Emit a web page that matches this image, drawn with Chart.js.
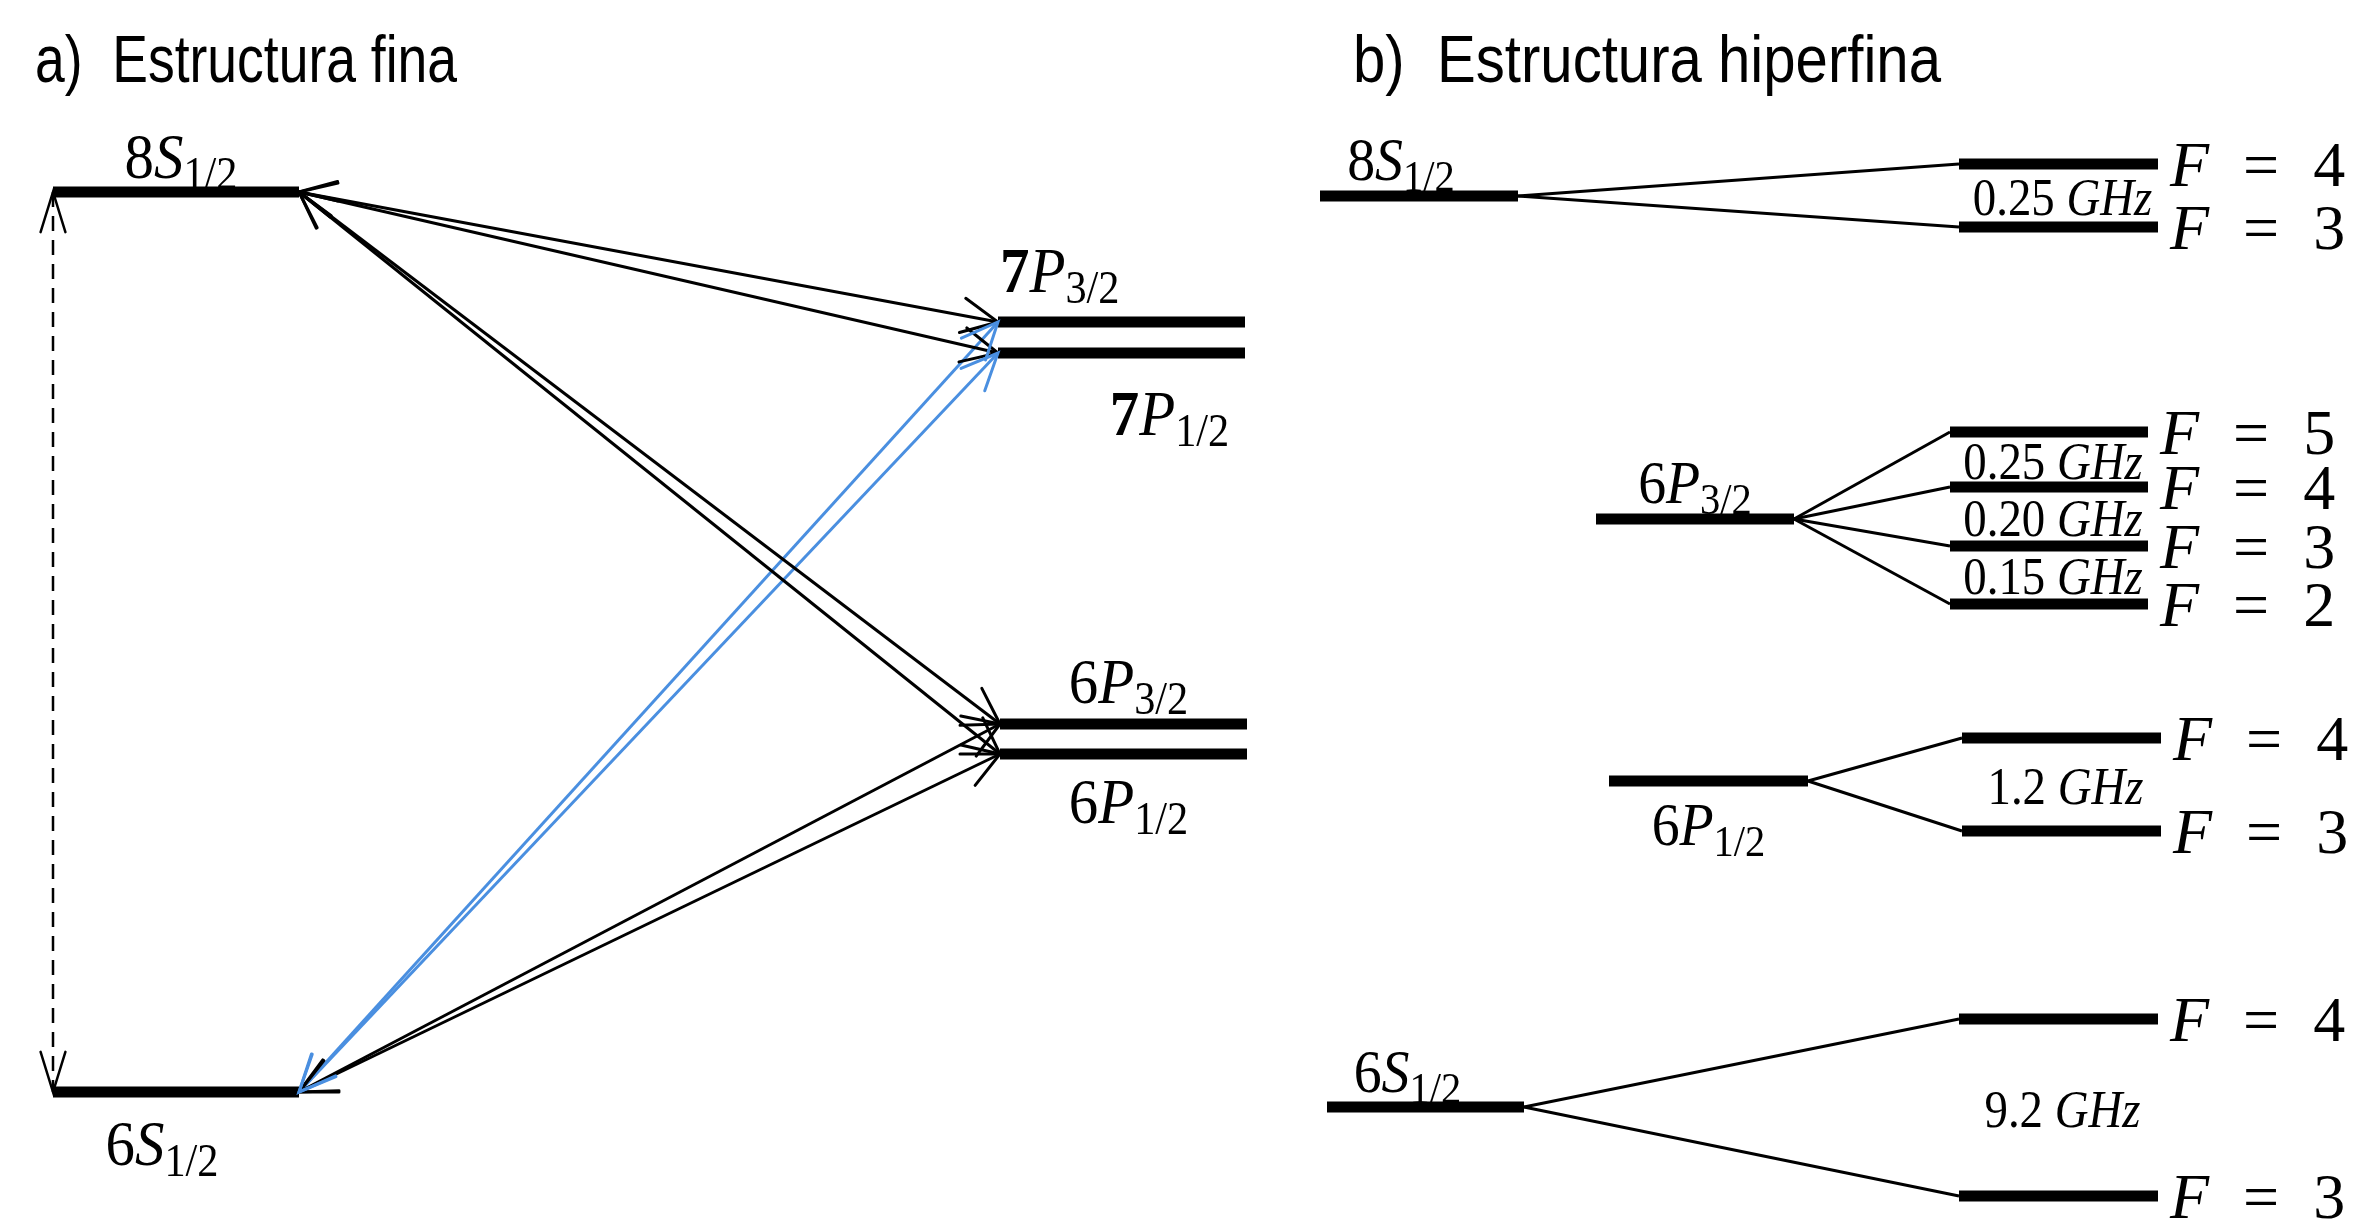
<!DOCTYPE html>
<html><head><meta charset="utf-8">
<script src="https://cdn.jsdelivr.net/npm/chart.js@4.4.1/dist/chart.umd.min.js"></script>
<style>html,body{margin:0;padding:0;background:#fff;overflow:hidden}#wrap{width:2366px;height:1225px;position:relative;background:#fff}</style>
</head><body><div id="wrap"><canvas id="c"></canvas></div>
<script>
// ---------- DATA ----------
// Panel a) fine structure: level names, vertical position (diagram units, down = lower energy), horizontal extent
const fineLevels = ['8S1/2', '7P3/2', '7P1/2', '6P3/2', '6P1/2', '6S1/2'];
const fineEnergy = [192, 322, 353, 724, 754, 1092];
const fineStart  = [53, 998, 998, 1000, 1000, 53];
const fineEnd    = [299, 1245, 1245, 1247, 1247, 299];
// transitions [from, to] (indices in fineLevels)
const blackTransitions  = [[0,1],[0,2],[0,3],[0,4],[5,3],[5,4]];
const blueTransitions   = [[5,1],[5,2]];
const dashedTransitions = [[0,5]];

// Panel b) hyperfine structure
const hfParents      = ['8S1/2', '6P3/2', '6P1/2', '6S1/2'];
const hfParentEnergy = [196, 519, 781, 1107];
const hfParentStart  = [1320, 1596, 1609, 1327];
const hfParentEnd    = [1518, 1794, 1808, 1524];
const hfF            = [[4,3], [5,4,3,2], [4,3], [4,3]];
const hfSubEnergy    = [[164,227], [432,487,546,604], [738,831], [1019,1196]];
const hfSubStart     = [1959, 1950, 1962, 1959];
const hfSubEnd       = [2158, 2148, 2161, 2158];
const hfSplittings   = [['0.25'], ['0.25','0.20','0.15'], ['1.2'], ['9.2']];

const titles = ['a)  Estructura fina', 'b)  Estructura hiperfina'];

// ---------- STYLE ----------
const W = 2366, H = 1225;
const BLUE = '#4a8fe0';
const SERIF = "'Liberation Serif', 'DejaVu Serif', serif";
const SANS = "'Liberation Sans Narrow', 'Liberation Sans', Arial, sans-serif";
const titleStyle = [{x:35, y:82, w:422}, {x:1353, y:82, w:588}];
const fineLabelStyle = [
  {dx:5, dy:-14, align:'center'},
  {dx:2, dy:-30, align:'left', fromStart:true, bold:true},
  {dx:48, dy:82, align:'center', bold:true},
  {dx:5, dy:-21, align:'center'},
  {dx:5, dy:69, align:'center'},
  {dx:-14, dy:73, align:'center'}
];
const hfLabelStyle = [
  {dx:-18, dy:-16, align:'center'},
  {dx:0, dy:-16, align:'center'},
  {dx:0, dy:64, align:'center'},
  {dx:-18, dy:-15, align:'center'}
];

// ---------- DATASETS ----------
const pt = (x, y) => ({x, y});
const base = {showLine:true, pointRadius:0, pointHoverRadius:0, fill:false, tension:0, borderCapStyle:'butt'};
const datasets = [];
fineLevels.forEach((n, i) => datasets.push(Object.assign({}, base, {
  label:n, data:[pt(fineStart[i], fineEnergy[i]), pt(fineEnd[i], fineEnergy[i])],
  borderColor:'#000', borderWidth:11
})));
blackTransitions.forEach(([f, t]) => datasets.push(Object.assign({}, base, {
  label:fineLevels[f]+'-'+fineLevels[t],
  data:[pt(fineEnd[f], fineEnergy[f]), pt(fineStart[t], fineEnergy[t])],
  borderColor:'#000', borderWidth:3, arrowHeads:[true,true], arrowLen:40, arrowAng:0.45
})));
blueTransitions.forEach(([f, t]) => datasets.push(Object.assign({}, base, {
  label:fineLevels[f]+'-'+fineLevels[t],
  data:[pt(fineEnd[f], fineEnergy[f]), pt(fineStart[t], fineEnergy[t])],
  borderColor:BLUE, borderWidth:3, arrowHeads:[true,true], arrowLen:40, arrowAng:0.42
})));
dashedTransitions.forEach(([f, t]) => datasets.push(Object.assign({}, base, {
  label:fineLevels[f]+'-'+fineLevels[t],
  data:[pt(fineStart[f], fineEnergy[f]), pt(fineStart[t], fineEnergy[t])],
  borderColor:'#000', borderWidth:2.5, borderDash:[15,9], arrowHeads:[true,true], arrowLen:42, arrowAng:0.3
})));
hfParents.forEach((n, i) => {
  datasets.push(Object.assign({}, base, {
    label:'hf '+n, data:[pt(hfParentStart[i], hfParentEnergy[i]), pt(hfParentEnd[i], hfParentEnergy[i])],
    borderColor:'#000', borderWidth:11
  }));
  hfSubEnergy[i].forEach((e, k) => {
    datasets.push(Object.assign({}, base, {
      label:n+' F='+hfF[i][k], data:[pt(hfParentEnd[i], hfParentEnergy[i]), pt(hfSubStart[i], e)],
      borderColor:'#000', borderWidth:3
    }));
    datasets.push(Object.assign({}, base, {
      label:n+' F='+hfF[i][k]+' level', data:[pt(hfSubStart[i], e), pt(hfSubEnd[i], e)],
      borderColor:'#000', borderWidth:11
    }));
  });
});

// ---------- PLUGINS ----------
function head(ctx, tx, ty, fx, fy, len, ang) {
  const th = Math.atan2(ty - fy, tx - fx);
  ctx.beginPath();
  ctx.moveTo(tx - len*Math.cos(th - ang), ty - len*Math.sin(th - ang));
  ctx.lineTo(tx, ty);
  ctx.lineTo(tx - len*Math.cos(th + ang), ty - len*Math.sin(th + ang));
  ctx.stroke();
}
const arrowPlugin = {
  id:'arrows',
  afterDatasetsDraw(chart) {
    const ctx = chart.ctx;
    chart.data.datasets.forEach((ds, i) => {
      if (!ds.arrowHeads) return;
      const p = chart.getDatasetMeta(i).data;
      const a = p[0], b = p[p.length-1];
      ctx.save();
      ctx.setLineDash([]);
      ctx.strokeStyle = ds.borderColor; ctx.lineWidth = ds.borderWidth; ctx.lineCap = 'round'; ctx.lineJoin = 'miter';
      if (ds.arrowHeads[1]) head(ctx, b.x, b.y, a.x, a.y, ds.arrowLen, ds.arrowAng);
      if (ds.arrowHeads[0]) head(ctx, a.x, a.y, b.x, b.y, ds.arrowLen, ds.arrowAng);
      ctx.restore();
    });
  }
};
function drawParts(ctx, parts, x, y, align, sx) {
  sx = sx || 1;
  let w = 0;
  parts.forEach(p => { ctx.font = p.font; p.w = ctx.measureText(p.t).width; w += p.w + (p.gap || 0); });
  const tw = w * sx;
  const left = align === 'center' ? x - tw/2 : align === 'right' ? x - tw : x;
  ctx.save();
  ctx.translate(left, y); ctx.scale(sx, 1);
  let cx = 0;
  parts.forEach(p => { ctx.font = p.font; ctx.fillText(p.t, cx, (p.dy || 0)); cx += p.w + (p.gap || 0); });
  ctx.restore();
}
function levelParts(name, bold, size) {
  const m = name.match(/^(\d)([A-Z])(.+)$/);
  const s = size || 60;
  return [
    {t:m[1], font:(bold ? 'bold ' : '') + s + 'px ' + SERIF},
    {t:m[2], font:'italic ' + s + 'px ' + SERIF},
    {t:m[3], font:Math.round(s*0.72) + 'px ' + SERIF, dy:11}
  ];
}
const textPlugin = {
  id:'texts',
  afterDraw(chart) {
    const ctx = chart.ctx, xs = chart.scales.x, ys = chart.scales.y;
    ctx.save();
    ctx.fillStyle = '#000'; ctx.textBaseline = 'alphabetic';
    // titles
    titles.forEach((t, i) => {
      const st = titleStyle[i];
      ctx.font = '66px ' + SANS;
      const mw = ctx.measureText(t).width;
      const sx = Math.min(1, st.w / mw);
      ctx.save(); ctx.translate(st.x, st.y); ctx.scale(sx, 1); ctx.fillText(t, 0, 0); ctx.restore();
    });
    // fine labels
    fineLevels.forEach((n, i) => {
      const st = fineLabelStyle[i];
      const xv = st.fromStart ? fineStart[i] : (fineStart[i] + fineEnd[i]) / 2;
      drawParts(ctx, levelParts(n, st.bold, 64), xs.getPixelForValue(xv) + st.dx, ys.getPixelForValue(fineEnergy[i]) + st.dy, st.align, 0.92);
    });
    // hyperfine labels
    hfParents.forEach((n, i) => {
      const st = hfLabelStyle[i];
      const xv = (hfParentStart[i] + hfParentEnd[i]) / 2;
      drawParts(ctx, levelParts(n, false, 62), xs.getPixelForValue(xv) + st.dx, ys.getPixelForValue(hfParentEnergy[i]) + st.dy, st.align, 0.9);
      // F labels
      hfSubEnergy[i].forEach((e, k) => {
        const x0 = xs.getPixelForValue(hfSubEnd[i]) + 12, y0 = ys.getPixelForValue(e) + 22;
        drawParts(ctx, [
          {t:'F', font:'italic 64px ' + SERIF, gap:34},
          {t:'=', font:'64px ' + SERIF, gap:34},
          {t:String(hfF[i][k]), font:'64px ' + SERIF}
        ], x0, y0, 'left', 1);
      });
      // splitting labels
      hfSplittings[i].forEach((v, k) => {
        const mid = (hfSubEnergy[i][k] + hfSubEnergy[i][k+1]) / 2;
        const xc = xs.getPixelForValue((hfSubStart[i] + hfSubEnd[i]) / 2);
        drawParts(ctx, [
          {t:v + ' ', font:'52px ' + SERIF},
          {t:'GHz', font:'italic 52px ' + SERIF}
        ], xc + 4, ys.getPixelForValue(mid) + 19, 'center', 0.9);
      });
    });
    ctx.restore();
  }
};

new Chart(document.getElementById('c'), {
  type:'scatter',
  data:{datasets},
  options:{
    responsive:true, maintainAspectRatio:false, animation:false,
    layout:{padding:0},
    plugins:{legend:{display:false}, tooltip:{enabled:false}, title:{display:false}},
    events:[],
    scales:{
      x:{type:'linear', min:0, max:W, display:false},
      y:{type:'linear', min:0, max:H, reverse:true, display:false}
    }
  },
  plugins:[arrowPlugin, textPlugin]
});
</script></body></html>
